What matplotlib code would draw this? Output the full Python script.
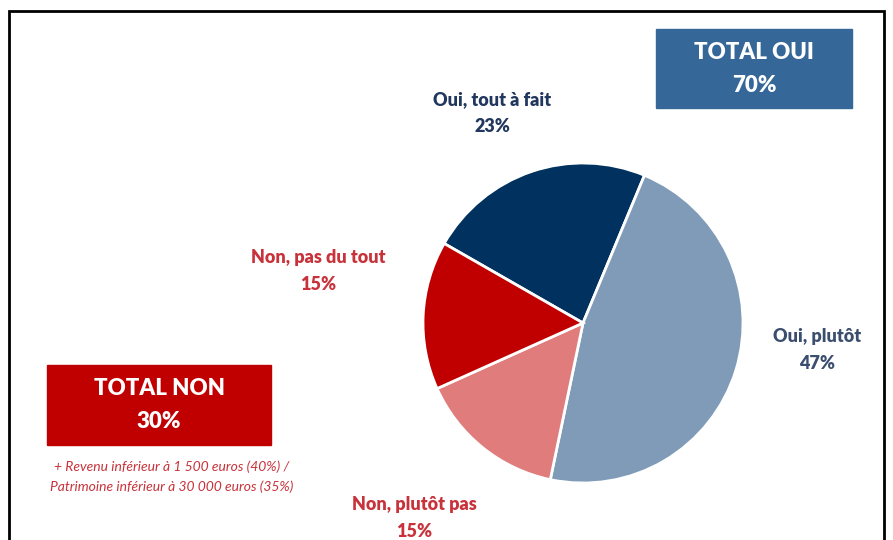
import matplotlib.pyplot as plt
from matplotlib.patches import Rectangle

# data
labels = ["Oui, tout à fait", "Oui, plutôt", "Non, plutôt pas", "Non, pas du tout"]
values = [23, 47, 15, 15]
colors = ["#00315F", "#7F9BB8", "#E07C7C", "#C00000"]
label_colors = ["#22375E", "#3B4E6E", "#C8323A", "#C8323A"]
total_oui = 70
total_non = 30
note = "+ Revenu inférieur à 1 500 euros (40%) /\nPatrimoine inférieur à 30 000 euros (35%)"

W, H = 893, 540
fig = plt.figure(figsize=(W / 100, H / 100), dpi=100)
ax = fig.add_axes([0, 0, 1, 1])

font = ["Lato", "DejaVu Sans"]

# frame (open at the bottom)
ax.plot([9, 9, 884, 884], [0, H - 11, H - 11, 0], color="black", lw=2, solid_joinstyle="miter")

# pie
cx, cy, r = 583, H - 323, 160
ax.pie(values, colors=colors, startangle=150.2, counterclock=False,
       center=(cx, cy), radius=r, frame=True,
       wedgeprops=dict(edgecolor="white", linewidth=2))
ax.set_xlim(0, W)
ax.set_ylim(0, H)
ax.set_aspect("equal")
ax.axis("off")

# slice labels
label_pos = [(492, 113), (817, 350), (414, 518), (318, 271)]
for lab, v, (x, y), c in zip(labels, values, label_pos, label_colors):
    ax.text(x, H - y, f"{lab}\n{v}%", ha="center", va="center", color=c,
            fontsize=13, fontweight="heavy", family=font, linespacing=1.75)

# total boxes
ax.add_patch(Rectangle((656, H - 108), 196, 79, color="#356798", zorder=3))
ax.text(754, H - 69, f"TOTAL OUI\n{total_oui}%", ha="center", va="center", color="white",
        fontsize=16, fontweight="heavy", family=font, linespacing=1.7, zorder=4)

ax.add_patch(Rectangle((47, H - 445), 224, 80, color="#C00000", zorder=3))
ax.text(159, H - 405, f"TOTAL NON\n{total_non}%", ha="center", va="center", color="white",
        fontsize=16, fontweight="heavy", family=font, linespacing=1.7, zorder=4)

ax.text(172, H - 477, note, ha="center", va="center", color="#C8323A",
        fontsize=10, style="italic", family=font, linespacing=1.7)

fig.savefig("out.png", dpi=100)
